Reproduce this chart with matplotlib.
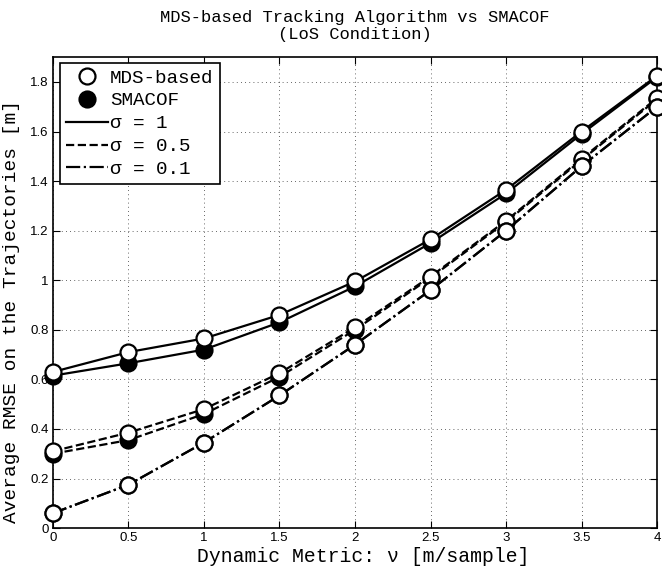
import matplotlib
matplotlib.use("Agg")
import matplotlib.pyplot as plt
from matplotlib.lines import Line2D

v = [0, 0.5, 1, 1.5, 2, 2.5, 3, 3.5, 4]

mds_s1 = [0.630, 0.710, 0.765, 0.860, 0.995, 1.165, 1.365, 1.600, 1.825]
smacof_s1 = [0.615, 0.665, 0.720, 0.830, 0.975, 1.150, 1.350, 1.590, 1.820]
mds_s05 = [0.310, 0.385, 0.480, 0.625, 0.810, 1.015, 1.240, 1.490, 1.735]
smacof_s05 = [0.300, 0.355, 0.460, 0.610, 0.800, 1.010, 1.235, 1.485, 1.730]
mds_s01 = [0.060, 0.175, 0.345, 0.535, 0.740, 0.960, 1.200, 1.460, 1.700]
smacof_s01 = [0.060, 0.175, 0.345, 0.535, 0.740, 0.960, 1.200, 1.460, 1.700]

xticks = [0, 0.5, 1, 1.5, 2, 2.5, 3, 3.5, 4]
xticklabels = ["0", "0.5", "1", "1.5", "2", "2.5", "3", "3.5", "4"]
yticks = [0, 0.2, 0.4, 0.6, 0.8, 1.0, 1.2, 1.4, 1.6, 1.8]
yticklabels = ["0", "0.2", "0.4", "0.6", "0.8", "1", "1.2", "1.4", "1.6", "1.8"]

mono = "Liberation Mono"
sans = "Liberation Sans"

fig = plt.figure(figsize=(6.62, 5.66), dpi=100)
ax = fig.add_axes([0.080, 0.067, 0.9125, 0.832])

lw = 1.6
ms = 11.5
mew = 1.6

series = [
    (smacof_s1, "-", "black"),
    (mds_s1, "-", "white"),
    (smacof_s05, "--", "black"),
    (mds_s05, "--", "white"),
    (smacof_s01, "-.", "black"),
    (mds_s01, "-.", "white"),
]
for ys, ls, fc in series:
    ax.plot(v, ys, linestyle=ls, color="black", lw=lw, marker="o",
            markersize=ms, markerfacecolor=fc, markeredgecolor="black",
            markeredgewidth=mew, clip_on=False, zorder=3)

ax.set_xlim(0, 4)
ax.set_ylim(0, 1.9)
ax.set_xticks(xticks)
ax.set_xticklabels(xticklabels, fontfamily=sans, fontsize=9.5)
ax.set_yticks(yticks)
ax.set_yticklabels(yticklabels, fontfamily=sans, fontsize=9.5)
ax.tick_params(direction="in", top=True, right=True, length=5, width=0.8, pad=3)
ax.grid(True, linestyle=(0, (1, 4)), color="black", lw=0.6, alpha=0.8)
for s in ax.spines.values():
    s.set_linewidth(1.2)

ax.set_title("MDS-based Tracking Algorithm vs SMACOF\n(LoS Condition)",
             fontfamily=mono, fontsize=12.3, pad=13, linespacing=1.2)
ax.set_xlabel("Dynamic Metric: ν [m/sample]", fontfamily=mono, fontsize=14.2)
ax.xaxis.set_label_coords(0.513, -0.040)
ax.set_ylabel("Average RMSE on the Trajectories [m]", fontfamily=mono, fontsize=14.0)
ax.yaxis.set_label_coords(-0.054, 0.459)

handles = [
    Line2D([], [], linestyle="none", marker="o", markersize=ms, markerfacecolor="white",
           markeredgecolor="black", markeredgewidth=mew),
    Line2D([], [], linestyle="none", marker="o", markersize=ms, markerfacecolor="black",
           markeredgecolor="black", markeredgewidth=mew),
    Line2D([], [], linestyle="-", color="black", lw=lw),
    Line2D([], [], linestyle="--", color="black", lw=lw),
    Line2D([], [], linestyle="-.", color="black", lw=lw),
]
labels = ["MDS-based", "SMACOF", "σ = 1", "σ = 0.5", "σ = 0.1"]
leg = ax.legend(handles, labels, loc="upper left", bbox_to_anchor=(0.011, 0.988),
                prop={"family": mono, "size": 13.9}, frameon=True, fancybox=False,
                edgecolor="black", framealpha=1, borderpad=0.32, labelspacing=0.28,
                handlelength=2.2, handletextpad=0.1, borderaxespad=0.0)
leg.get_frame().set_linewidth(1.2)
leg.set_zorder(5)

fig.savefig("out.png", dpi=100)
